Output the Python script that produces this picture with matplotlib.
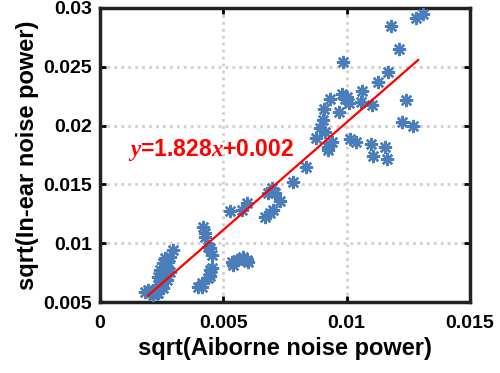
import numpy as np
import matplotlib
matplotlib.use('Agg')
import matplotlib.pyplot as plt

plt.rcParams['font.family'] = ['Liberation Sans', 'DejaVu Sans']
plt.rcParams['mathtext.fontset'] = 'custom'
plt.rcParams['mathtext.bfit'] = 'Liberation Serif:italic:bold'

# sqrt(airborne noise power) vs sqrt(in-ear noise power)
airborne = [0.00182, 0.00196, 0.00203, 0.00216, 0.00230, 0.00223, 0.00236, 0.00250,
            0.00257, 0.00236, 0.00243, 0.00270, 0.00250, 0.00284, 0.00270, 0.00257,
            0.00264, 0.00284, 0.00297, 0.00276, 0.00243, 0.00236, 0.00270,
            0.00419, 0.00426, 0.00426, 0.00439, 0.00446, 0.00453, 0.00453, 0.00446,
            0.00446, 0.00439, 0.00412, 0.00399, 0.00412,
            0.00534, 0.00540, 0.00554, 0.00581, 0.00595, 0.00601, 0.00561,
            0.00527, 0.00574, 0.00595,
            0.00669, 0.00689, 0.00703, 0.00730, 0.00682, 0.00709, 0.00696,
            0.00781, 0.00835, 0.00924, 0.00876, 0.00912, 0.00892, 0.00903,
            0.00939, 0.00926, 0.01014, 0.01038, 0.01097, 0.01155, 0.01108, 0.01162,
            0.00909, 0.00932, 0.00969, 0.00981, 0.01011, 0.00993, 0.01058, 0.01063,
            0.01101, 0.01126, 0.01169, 0.00984, 0.01212, 0.01180, 0.01281, 0.01311,
            0.01240, 0.01226, 0.01268, 0.01001]
in_ear = [0.00588, 0.00602, 0.00574, 0.00560, 0.00574, 0.00602, 0.00645, 0.00630,
          0.00617, 0.00574, 0.00702, 0.00687, 0.00758, 0.00758, 0.00800, 0.00829,
          0.00872, 0.00886, 0.00943, 0.00840, 0.00772, 0.00715, 0.00730,
          0.01141, 0.01085, 0.01056, 0.00971, 0.00957, 0.00900, 0.00787, 0.00772,
          0.00721, 0.00702, 0.00659, 0.00630, 0.00630,
          0.00843, 0.00815, 0.00857, 0.00886, 0.00857, 0.00843, 0.00857,
          0.01277, 0.01283, 0.01340,
          0.01226, 0.01260, 0.01283, 0.01362, 0.01425, 0.01430, 0.01470,
          0.01519, 0.01646, 0.01794, 0.01893, 0.01949, 0.01978, 0.02049,
          0.01864, 0.01817, 0.01885, 0.01864, 0.01845, 0.01817, 0.01743, 0.01717,
          0.02138, 0.02225, 0.02120, 0.02270, 0.02196, 0.02228, 0.02200, 0.02298,
          0.02177, 0.02375, 0.02460, 0.02545, 0.02650, 0.02849, 0.02915, 0.02951,
          0.02219, 0.02035, 0.01998, 0.02245]

# linear fit  y = 1.828x + 0.002, drawn over this x range
slope = 1.828
intercept = 0.002
fit_range = [0.00195, 0.0129]

fig = plt.figure(figsize=(5, 3.73), dpi=100)
ax = fig.add_axes([0.2, 0.19, 0.74, 0.7886])

ax.plot(airborne, in_ear, linestyle='none', marker=(8, 2, 0), markersize=9.5,
        markeredgewidth=1.7, color='#4a7ebb', zorder=3)

fit_x = np.array(fit_range)
ax.plot(fit_x, slope * fit_x + intercept, color='#ff0000', linewidth=1.6, zorder=4)

ax.text(0.00112, 0.0179, '$\\mathbfit{y}$=1.828$\\mathbfit{x}$+0.002', color='#ff0000',
        fontsize=16.5, fontweight='bold', va='center', ha='left', zorder=5)

ax.set_xlim(0, 0.015)
ax.set_ylim(0.005, 0.03)
ax.set_xticks([0, 0.005, 0.01, 0.015])
ax.set_xticklabels(['0', '0.005', '0.01', '0.015'])
ax.set_yticks([0.005, 0.01, 0.015, 0.02, 0.025, 0.03])
ax.set_yticklabels(['0.005', '0.01', '0.015', '0.02', '0.025', '0.03'])

ax.grid(True, linestyle=(0, (1, 1.5)), color='#d0d0d0', linewidth=2)
ax.set_axisbelow(True)
ax.tick_params(direction='in', length=4, width=2, top=True, right=True,
               labelsize=14, pad=6)
ax.tick_params(axis='x', pad=9)
for lbl in ax.get_xticklabels() + ax.get_yticklabels():
    lbl.set_fontweight('bold')
for s in ax.spines.values():
    s.set_linewidth(2.5)
    s.set_color('#222222')

ax.set_xlabel('sqrt(Aiborne noise power)', fontsize=17, fontweight='bold', labelpad=4)
ax.set_ylabel('sqrt(In-ear noise power)', fontsize=17, fontweight='bold', labelpad=3)

fig.savefig('out.png', dpi=100)
